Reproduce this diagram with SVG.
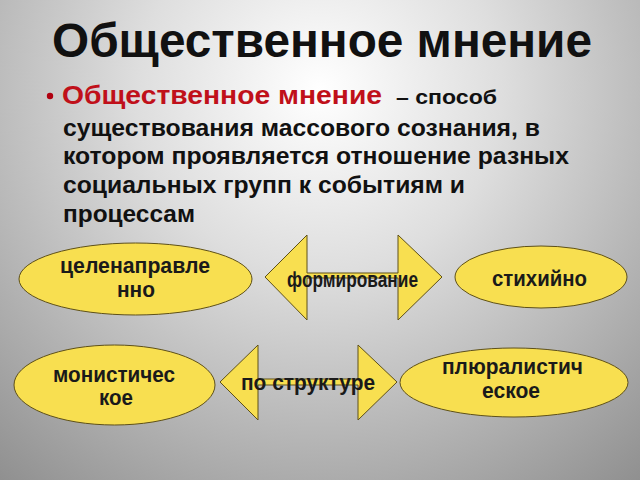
<svg xmlns="http://www.w3.org/2000/svg" width="640" height="480" viewBox="0 0 640 480">
<defs>
<radialGradient id="bg" cx="320" cy="90" r="520" gradientUnits="userSpaceOnUse">
<stop offset="0" stop-color="#ffffff"/>
<stop offset="0.35" stop-color="#dedede"/>
<stop offset="1" stop-color="#8c8c8c"/>
</radialGradient>
<style>
.t{font-family:"Liberation Sans",Arial,sans-serif;font-weight:bold;fill:#111}
.sh{fill:#f8df50;stroke:#5e5018;stroke-width:1}
.lb{font-family:"Liberation Sans",Arial,sans-serif;font-weight:bold;font-size:22px;fill:#1a1a1a;text-anchor:middle}
</style>
</defs>
<rect width="640" height="480" fill="url(#bg)"/>
<text class="t" x="322" y="57" font-size="48" text-anchor="middle" textLength="540" lengthAdjust="spacingAndGlyphs">Общественное мнение</text>
<g id="body" class="t" font-size="23">
<circle cx="50" cy="96" r="3.2" fill="#b00010"/>
<text x="62" y="104" fill="#c0101a" font-size="26" textLength="320" lengthAdjust="spacingAndGlyphs">Общественное мнение</text>
<text x="396" y="104" font-size="21" textLength="101" lengthAdjust="spacingAndGlyphs">– способ</text>
<text x="63" y="136" textLength="477" lengthAdjust="spacingAndGlyphs">существования массового сознания, в</text>
<text x="63" y="164" textLength="506" lengthAdjust="spacingAndGlyphs">котором проявляется отношение разных</text>
<text x="63" y="193" textLength="402" lengthAdjust="spacingAndGlyphs">социальных групп к событиям и</text>
<text x="63" y="222" textLength="132" lengthAdjust="spacingAndGlyphs">процессам</text>
</g>
<g id="connectors">
<polygon class="sh" points="265,277 307,235 307,273 398,273 398,235 442,277 398,320 398,278 307,278 307,320"/>
<polygon class="sh" points="220,382 258,345 258,379 358,379 358,345 397,382 358,420 358,385 258,385 258,420"/>
</g>
<g id="n1"><ellipse class="sh" cx="135.5" cy="279" rx="116.5" ry="36"/><text class="lb" x="135" y="273" textLength="150" lengthAdjust="spacingAndGlyphs">целенаправле</text><text class="lb" x="136" y="297" textLength="38" lengthAdjust="spacingAndGlyphs">нно</text></g>
<g id="n2"><ellipse class="sh" cx="541" cy="277" rx="86" ry="31"/><text class="lb" x="539.5" y="286" textLength="95" lengthAdjust="spacingAndGlyphs">стихийно</text></g>
<g id="n3"><ellipse class="sh" cx="114.5" cy="385" rx="100.5" ry="40"/><text class="lb" x="114" y="382" textLength="122" lengthAdjust="spacingAndGlyphs">монистичес</text><text class="lb" x="116" y="405" textLength="34" lengthAdjust="spacingAndGlyphs">кое</text></g>
<g id="n4"><ellipse class="sh" cx="514" cy="382.5" rx="114" ry="34.5"/><text class="lb" x="512.5" y="374" textLength="141" lengthAdjust="spacingAndGlyphs">плюралистич</text><text class="lb" x="511" y="398" textLength="58" lengthAdjust="spacingAndGlyphs">еское</text></g>
<text class="lb" x="352.5" y="287" textLength="131" lengthAdjust="spacingAndGlyphs">формирование</text>
<text class="lb" x="308" y="390" textLength="134" lengthAdjust="spacingAndGlyphs">по структуре</text>
</svg>
